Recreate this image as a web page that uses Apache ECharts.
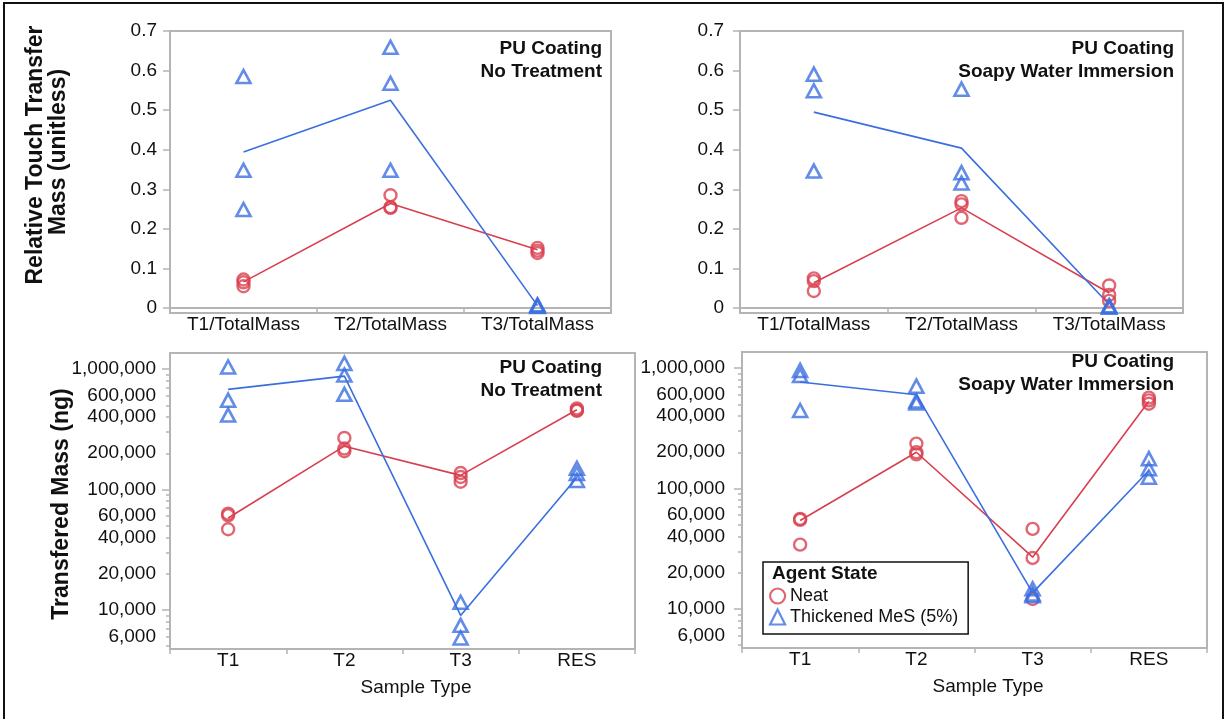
<!DOCTYPE html>
<html>
<head>
<meta charset="utf-8">
<script src="https://cdn.jsdelivr.net/npm/echarts@6/dist/echarts.min.js"></script>
<style>
  html, body { margin: 0; padding: 0; background: #fff; }
  #chart { width: 1225px; height: 719px; }
</style>
</head>
<body>
<div id="chart"></div>
<script>
// categories
const relCats = ['T1/TotalMass', 'T2/TotalMass', 'T3/TotalMass'];
const massCats = ['T1', 'T2', 'T3', 'RES'];

// tick labels
const relTicks = [0, 0.1, 0.2, 0.3, 0.4, 0.5, 0.6, 0.7];
const massTickLabels = [6000, 10000, 20000, 40000, 60000, 100000, 200000, 400000, 600000, 1000000];
const massDecades = [10000, 100000, 1000000];

// relative touch transfer, PU coating, no treatment (replicates per category)
const relNoTreatNeat = [[0.072, 0.065, 0.055], [0.285, 0.255, 0.253], [0.152, 0.145, 0.139]];
const relNoTreatNeatLine = [0.066, 0.264, 0.147];
const relNoTreatThick = [[0.585, 0.348, 0.249], [0.659, 0.568, 0.348], [0.004, 0.006, 0.008]];
const relNoTreatThickLine = [0.394, 0.525, 0.006];

// relative touch transfer, PU coating, soapy water immersion
const relSoapyNeat = [[0.075, 0.068, 0.043], [0.270, 0.262, 0.228], [0.057, 0.033, 0.018]];
const relSoapyNeatLine = [0.064, 0.253, 0.038];
const relSoapyThick = [[0.591, 0.549, 0.346], [0.553, 0.342, 0.316], [0.002, 0.004, 0.006]];
const relSoapyThickLine = [0.495, 0.404, 0.009];

// transfered mass (ng), no treatment
const massNoTreatNeat = [[63000, 61000, 46800], [268000, 219000, 208000], [137000, 127000, 116000], [471000, 456000, 450000]];
const massNoTreatNeatLine = [58000, 229000, 131000, 460000];
const massNoTreatThick = [[1040000, 552000, 415000], [1115000, 891000, 617000], [11600, 7450, 5850], [150000, 136000, 119000]];
const massNoTreatThickLine = [678000, 874000, 9000, 126000];

// transfered mass (ng), soapy water immersion
const massSoapyNeat = [[56000, 55000, 34200], [236000, 200000, 192000], [46200, 26500, 12100], [568000, 539000, 506000]];
const massSoapyNeatLine = [54200, 200000, 26900, 530000];
const massSoapyThick = [[957000, 869000, 444000], [708000, 532000, 512000], [14700, 13300, 12900], [177000, 146000, 124000]];
const massSoapyThickLine = [766000, 601000, 13600, 141000];

const RED = '#d8404f';
const BLUE = '#3b6fe0';
const FRAME = '#b4b4b4';
const TXT = '#111';
const FONT = "'Liberation Sans', Arial, sans-serif";

// minor ticks 2..9 x 10^k for the log axes
const massMinorTicks = [];
[1000, 10000, 100000].forEach(d => {
  for (let m = 1; m <= 9; m++) massMinorTicks.push(m * d);
});
massMinorTicks.push(1000000);

function points(cats, groups) {
  const out = [];
  groups.forEach((g, i) => g.forEach(v => out.push([cats[i], v])));
  return out;
}

function grid(left, top, width, height) {
  return { left, top, width, height, show: true, borderColor: FRAME, borderWidth: 2, backgroundColor: 'transparent' };
}

function catAxis(cats, gridIndex) {
  return {
    type: 'category', gridIndex, data: cats, boundaryGap: true,
    axisLine: { show: true, lineStyle: { color: FRAME, width: 2 } },
    axisTick: { show: true, interval: 0, length: 5, lineStyle: { color: FRAME, width: 1.5 } },
    axisLabel: { interval: 0, margin: 2, color: TXT, fontSize: 19, fontFamily: FONT },
    splitLine: { show: false }
  };
}

function relAxis(gridIndex, margin) {
  return {
    type: 'value', gridIndex, position: 'left', min: -0.0126, max: 0.7,
    axisLine: { show: true, lineStyle: { color: FRAME, width: 2 } },
    axisTick: { show: true, length: 7, customValues: relTicks, lineStyle: { color: FRAME, width: 1.5 } },
    axisLabel: { customValues: relTicks, margin, color: TXT, fontSize: 19, fontFamily: FONT },
    splitLine: { show: false }
  };
}

function massAxis(gridIndex, margin) {
  return {
    type: 'log', logBase: 10, gridIndex, position: 'left', min: 4740, max: 1360000,
    axisLine: { show: true, lineStyle: { color: FRAME, width: 2 } },
    axisTick: { show: true, length: 4, customValues: massMinorTicks, lineStyle: { color: FRAME, width: 1.5 } },
    axisLabel: {
      customValues: massTickLabels, margin, color: TXT, fontSize: 19, fontFamily: FONT,
      formatter: v => Number(v).toLocaleString('en-US')
    },
    splitLine: { show: false }
  };
}

// longer ticks at each decade, same scale as the labelled log axis
function decadeAxis(gridIndex) {
  return {
    type: 'log', logBase: 10, gridIndex, position: 'left', offset: 0, min: 4740, max: 1360000,
    axisLine: { show: false },
    axisTick: { show: true, length: 8, customValues: massDecades, lineStyle: { color: FRAME, width: 1.5 } },
    axisLabel: { show: false },
    splitLine: { show: false }
  };
}

function panelSeries(idx, yIdx, cats, neat, neatLine, thick, thickLine) {
  const base = { xAxisIndex: idx, yAxisIndex: yIdx };
  return [
    { ...base, type: 'line', name: 'neat-line', data: neatLine, showSymbol: false, symbol: 'none',
      lineStyle: { color: RED, width: 1.6 }, z: 2, silent: true },
    { ...base, type: 'line', name: 'thick-line', data: thickLine, showSymbol: false, symbol: 'none',
      lineStyle: { color: BLUE, width: 1.6 }, z: 2, silent: true },
    { ...base, type: 'scatter', name: 'Neat', data: points(cats, neat), symbol: 'circle', symbolSize: 12,
      itemStyle: { color: 'rgba(0,0,0,0)', borderColor: RED, borderWidth: 2.4 }, z: 3 },
    { ...base, type: 'scatter', name: 'Thickened MeS (5%)', data: points(cats, thick), symbol: 'triangle', symbolSize: [14, 13],
      itemStyle: { color: 'rgba(0,0,0,0)', borderColor: BLUE, borderWidth: 2.6 }, z: 3 }
  ];
}

function annot(x, y, text) {
  return {
    type: 'text', x, y, z: 10,
    style: { text, font: "bold 19px 'Liberation Sans', Arial, sans-serif", fill: TXT, textAlign: 'right', lineHeight: 23 }
  };
}

function vertTitle(x, y, text) {
  return {
    type: 'text', x, y, rotation: Math.PI / 2,
    style: { text, font: "bold 23px 'Liberation Sans', Arial, sans-serif", fill: TXT, textAlign: 'center', textVerticalAlign: 'middle' }
  };
}

const chart = echarts.init(document.getElementById('chart'));

chart.setOption({
  animation: false,
  backgroundColor: '#fff',
  grid: [
    grid(170, 31, 441, 282),
    grid(740, 31, 443, 282),
    grid(170, 353, 465, 296),
    grid(742, 352, 465, 296)
  ],
  xAxis: [
    catAxis(relCats, 0),
    catAxis(relCats, 1),
    catAxis(massCats, 2),
    catAxis(massCats, 3)
  ],
  yAxis: [
    relAxis(0, 13),
    relAxis(1, 16),
    massAxis(2, 14),
    massAxis(3, 17),
    decadeAxis(2),
    decadeAxis(3)
  ],
  title: {
    text: 'Agent State', left: 772, top: 564, padding: 0, z: 10,
    textStyle: { fontSize: 19, fontWeight: 'bold', color: TXT, fontFamily: FONT }
  },
  legend: {
    left: 763, top: 562, orient: 'vertical',
    padding: [25, 10, 8, 6], itemGap: 3, itemWidth: 15, itemHeight: 15,
    borderColor: '#111', borderWidth: 1.5, backgroundColor: '#fff',
    textStyle: { fontSize: 18, color: TXT, fontFamily: FONT },
    data: [
      { name: 'Neat', icon: 'circle', itemStyle: { color: 'rgba(0,0,0,0)', borderColor: RED, borderWidth: 2.2 } },
      { name: 'Thickened MeS (5%)', icon: 'triangle', itemStyle: { color: 'rgba(0,0,0,0)', borderColor: BLUE, borderWidth: 2.2 } }
    ]
  },
  graphic: [
    { type: 'rect', shape: { x: 4, y: 3, width: 1219, height: 740 }, style: { fill: 'none', stroke: '#111', lineWidth: 2 }, silent: true },
    annot(602, 37, 'PU Coating\nNo Treatment'),
    annot(1174, 37, 'PU Coating\nSoapy Water Immersion'),
    annot(602, 356, 'PU Coating\nNo Treatment'),
    annot(1174, 350, 'PU Coating\nSoapy Water Immersion'),
    vertTitle(36, 155, 'Relative Touch Transfer'),
    vertTitle(59, 152, 'Mass (unitless)'),
    vertTitle(62, 504, 'Transfered Mass (ng)'),
    { type: 'text', x: 416, y: 688,
      style: { text: 'Sample Type', font: "19px 'Liberation Sans', Arial, sans-serif", fill: TXT, textAlign: 'center', textVerticalAlign: 'middle' } },
    { type: 'text', x: 988, y: 687,
      style: { text: 'Sample Type', font: "19px 'Liberation Sans', Arial, sans-serif", fill: TXT, textAlign: 'center', textVerticalAlign: 'middle' } }
  ],
  series: [
    ...panelSeries(0, 0, relCats, relNoTreatNeat, relNoTreatNeatLine, relNoTreatThick, relNoTreatThickLine),
    ...panelSeries(1, 1, relCats, relSoapyNeat, relSoapyNeatLine, relSoapyThick, relSoapyThickLine),
    ...panelSeries(2, 2, massCats, massNoTreatNeat, massNoTreatNeatLine, massNoTreatThick, massNoTreatThickLine),
    ...panelSeries(3, 3, massCats, massSoapyNeat, massSoapyNeatLine, massSoapyThick, massSoapyThickLine)
  ]
});
</script>
</body>
</html>
